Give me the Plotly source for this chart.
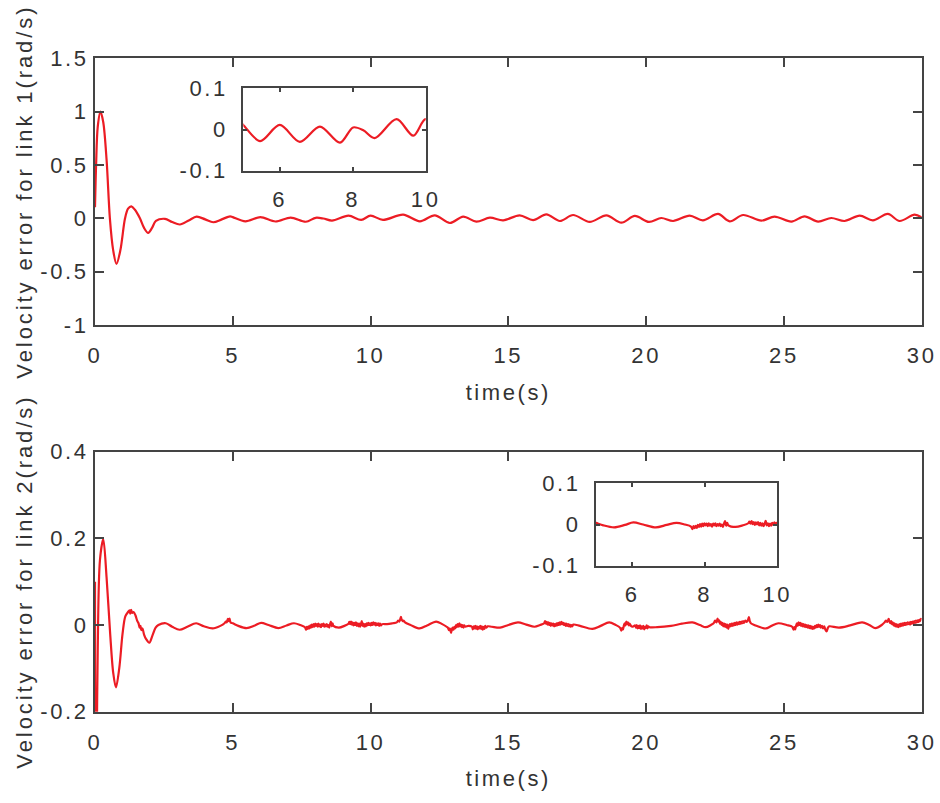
import plotly.graph_objects as go

# ---------------- data ----------------
# link 1 velocity error: time (s) and value (rad/s)
top_t = [0.0, 0.04, 0.1, 0.2, 0.3, 0.42, 0.54, 0.66, 0.78, 0.92, 1.09, 1.2, 1.32, 1.45,
         1.63, 1.78, 1.93, 2.07, 2.21, 2.54, 2.8, 3.08, 3.4, 3.69, 4.0, 4.29, 4.6, 4.9,
         5.0, 5.46, 6.0, 6.55, 7.1, 7.65, 8.01, 8.29, 8.6, 9.2, 9.66, 10.0,
         10.45, 11.18, 11.79, 12.33, 12.88, 13.36, 13.84, 14.33, 14.81, 15.41, 15.9,
         16.38, 16.87, 17.35, 17.95, 18.56, 19.1, 19.59, 20.1, 20.55, 20.98, 21.58,
         22.06, 22.61, 23.03, 23.52, 24.18, 24.66, 25.27, 25.75, 26.24, 26.72, 27.2,
         27.75, 28.23, 28.77, 29.2, 29.74, 30.0]
top_v = [0.103, 0.5, 0.86, 1.0, 0.9, 0.55, 0.0, -0.3, -0.428, -0.3, 0.0, 0.09, 0.112, 0.08,
         0.0, -0.09, -0.137, -0.09, -0.025, -0.005, -0.035, -0.058, -0.02, 0.016, -0.01, -0.037, -0.01, 0.019,
         0.011, -0.028, 0.011, -0.03, 0.007, -0.032, 0.005, -0.002, -0.021, 0.025, -0.015, 0.025,
         -0.015, 0.034, -0.028, 0.028, -0.044, 0.016, -0.031, 0.006, -0.019, 0.028, -0.016,
         0.037, -0.025, 0.031, -0.034, 0.028, -0.041, 0.022, -0.034, 0.003, -0.025, 0.025,
         -0.019, 0.041, -0.028, 0.031, -0.022, 0.016, -0.031, 0.019, -0.031, 0.003, -0.025,
         0.025, -0.019, 0.041, -0.025, 0.034, 0.009]

# link 2 velocity error, as (time, value) segments
bot_transient = [(0.0, 0.1), (0.02, -0.45), (0.06, -0.3), (0.1, -0.05), (0.18, 0.15), (0.3, 0.198),
                 (0.42, 0.11), (0.55, -0.02), (0.66, -0.11), (0.76, -0.144), (0.88, -0.1), (1.0, -0.02),
                 (1.1, 0.02), (1.2, 0.03), (1.25, 0.034), (1.28, 0.026), (1.31, 0.035), (1.35, 0.028),
                 (1.4, 0.03), (1.47, 0.022), (1.53, 0.01), (1.58, 0.004), (1.62, -0.006), (1.65, -0.002),
                 (1.68, -0.012), (1.72, -0.008), (1.78, -0.022), (1.85, -0.032), (1.97, -0.041),
                 (2.08, -0.025), (2.2, -0.006), (2.3, 0.0), (2.57, 0.004), (2.8, -0.004), (3.07, -0.011),
                 (3.35, -0.004), (3.67, 0.004), (3.95, -0.003), (4.27, -0.008), (4.55, -0.002),
                 (4.7, 0.004), (4.75, 0.008), (4.78, 0.006), (4.82, 0.014), (4.85, 0.009), (4.88, 0.015),
                 (4.92, 0.006), (5.0, 0.004), (5.2, -0.002), (5.5, -0.007), (5.8, -0.001), (6.03, 0.005),
                 (6.3, 0.0), (6.65, -0.007), (6.95, -0.001), (7.22, 0.004), (7.45, 0.0)]
bot_noise_a = [(7.62, -0.005), (7.66, -0.011), (7.69, -0.004), (7.72, -0.009), (7.75, -0.003),
               (7.78, -0.008), (7.81, -0.001), (7.84, -0.006), (7.87, 0.001), (7.9, -0.005),
               (7.93, 0.002), (7.96, -0.004), (7.99, 0.003), (8.02, -0.002), (8.05, 0.002),
               (8.08, -0.004), (8.11, 0.003), (8.14, -0.003), (8.17, 0.001), (8.2, -0.005),
               (8.23, 0.002), (8.26, -0.002), (8.29, 0.003), (8.32, -0.004), (8.35, 0.001),
               (8.38, -0.003), (8.41, 0.002), (8.44, -0.004), (8.47, 0.0), (8.5, -0.006),
               (8.53, 0.002), (8.56, 0.008), (8.59, -0.003), (8.62, 0.004), (8.65, -0.002),
               (8.85, -0.006), (9.05, -0.002), (9.2, 0.003)]
bot_noise_b = [(9.23, 0.007), (9.26, 0.002), (9.29, 0.008), (9.32, 0.001), (9.35, 0.006), (9.38, -0.001),
               (9.41, 0.005), (9.44, 0.0), (9.47, 0.006), (9.5, -0.002), (9.53, 0.004), (9.56, -0.003),
               (9.59, 0.003), (9.62, -0.004), (9.65, 0.002), (9.68, 0.009), (9.71, -0.002), (9.74, 0.003),
               (9.77, -0.004), (9.8, 0.002), (9.83, -0.003), (9.86, 0.004), (9.89, -0.001), (9.92, 0.005),
               (9.95, 0.0), (9.98, 0.004), (10.01, -0.001), (10.04, 0.005), (10.07, 0.0), (10.1, 0.006),
               (10.13, 0.001), (10.16, 0.005), (10.19, -0.001), (10.22, 0.004), (10.25, 0.0),
               (10.28, 0.004), (10.31, -0.002), (10.34, 0.003), (10.38, -0.001), (10.42, 0.002),
               (10.6, 0.002), (10.8, 0.004)]
bot_noise_c = [(10.95, 0.006), (11.0, 0.01), (11.05, 0.008), (11.1, 0.019), (11.13, 0.012), (11.17, 0.009),
               (11.2, 0.01), (11.25, 0.006), (11.45, 0.0), (11.78, -0.008), (12.05, -0.001),
               (12.38, 0.008), (12.6, 0.002)]
bot_noise_d = [(12.8, -0.006), (12.85, -0.012), (12.88, -0.008), (12.92, -0.018), (12.95, -0.01),
               (12.98, -0.006), (13.01, -0.011), (13.04, -0.004), (13.07, -0.008), (13.1, 0.0),
               (13.13, -0.005), (13.16, 0.002), (13.19, -0.004), (13.22, 0.004), (13.25, -0.003),
               (13.28, 0.001), (13.31, -0.005), (13.34, 0.0), (13.37, -0.006), (13.4, -0.001),
               (13.44, -0.004), (13.55, -0.002), (13.68, -0.004), (13.71, -0.01), (13.74, -0.003),
               (13.77, -0.008), (13.8, -0.002), (13.83, -0.009), (13.86, -0.003), (13.89, -0.01),
               (13.92, -0.004), (13.95, -0.008), (13.98, -0.002), (14.01, -0.009), (14.04, -0.003),
               (14.07, -0.011), (14.1, -0.004), (14.13, -0.009), (14.16, -0.002), (14.2, -0.006),
               (14.25, -0.003), (14.4, -0.004), (14.7, -0.006), (15.0, 0.0), (15.35, 0.006),
               (15.65, 0.001), (15.95, -0.004), (16.15, 0.0)]
bot_noise_e = [(16.3, 0.004), (16.33, 0.009), (16.36, 0.003), (16.39, 0.007), (16.42, 0.001), (16.45, 0.006),
               (16.48, 0.0), (16.51, 0.005), (16.54, -0.002), (16.57, 0.004), (16.6, -0.001), (16.63, 0.003),
               (16.66, -0.003), (16.69, 0.002), (16.72, -0.002), (16.75, 0.004), (16.78, -0.001),
               (16.81, 0.005), (16.84, 0.0), (16.87, 0.006), (16.9, 0.001), (16.93, 0.007), (16.96, 0.002),
               (16.99, 0.005), (17.02, 0.0), (17.05, 0.004), (17.08, -0.002), (17.11, 0.003),
               (17.14, -0.002), (17.17, 0.002), (17.2, -0.003), (17.23, 0.001), (17.26, -0.004),
               (17.29, 0.0), (17.32, -0.003), (17.36, 0.001), (17.6, -0.002), (18.05, -0.009),
               (18.35, -0.002), (18.66, 0.006), (18.9, 0.0)]
bot_noise_f = [(19.05, -0.006), (19.1, -0.013), (19.13, -0.007), (19.16, -0.01), (19.19, -0.002),
               (19.22, 0.004), (19.25, -0.001), (19.28, 0.008), (19.31, 0.002), (19.34, 0.006),
               (19.37, -0.001), (19.4, 0.003), (19.45, -0.002), (19.5, -0.004), (19.6, -0.001),
               (19.63, -0.006), (19.66, 0.0), (19.69, -0.008), (19.72, -0.002), (19.75, -0.007),
               (19.78, -0.001), (19.81, -0.009), (19.84, -0.003), (19.87, -0.008), (19.9, -0.002),
               (19.93, -0.01), (19.96, -0.004), (19.99, -0.007), (20.02, -0.001), (20.05, -0.008),
               (20.08, -0.003), (20.12, -0.005), (20.4, -0.005), (20.9, -0.002), (21.3, 0.003),
               (21.68, 0.006), (21.95, 0.0), (22.16, -0.005), (22.35, 0.0)]
bot_noise_g = [(22.45, 0.004), (22.5, 0.01), (22.55, 0.006), (22.59, 0.015), (22.62, 0.008), (22.65, 0.011),
               (22.68, 0.003), (22.71, 0.007), (22.74, 0.0), (22.77, 0.005), (22.8, -0.003), (22.83, 0.003),
               (22.86, -0.004), (22.89, 0.002), (22.92, -0.006), (22.95, 0.001), (22.98, -0.009),
               (23.01, -0.002), (23.04, 0.002), (23.07, -0.003), (23.1, 0.003), (23.13, -0.002),
               (23.16, 0.004), (23.19, -0.001), (23.22, 0.005), (23.25, 0.0), (23.28, 0.006),
               (23.31, 0.001), (23.34, 0.006), (23.37, 0.002), (23.4, 0.007), (23.43, 0.003),
               (23.46, 0.008), (23.49, 0.004), (23.52, 0.009), (23.55, 0.005), (23.6, 0.01),
               (23.65, 0.007), (23.7, 0.012), (23.73, 0.018), (23.76, 0.009), (23.8, 0.004),
               (24.05, -0.003), (24.34, -0.008), (24.55, -0.002), (24.8, 0.004), (25.1, 0.0)]
bot_noise_h = [(25.3, -0.004), (25.35, -0.011), (25.38, -0.005), (25.41, -0.01), (25.44, -0.002),
               (25.47, 0.004), (25.5, -0.002), (25.53, 0.006), (25.56, 0.0), (25.59, 0.005),
               (25.62, -0.002), (25.65, 0.003), (25.68, -0.003), (25.71, 0.002), (25.74, -0.004),
               (25.77, 0.001), (25.8, -0.005), (25.83, 0.0), (25.86, -0.006), (25.89, -0.001),
               (25.92, -0.007), (25.95, -0.002), (25.98, -0.008), (26.01, -0.003), (26.04, -0.009),
               (26.07, -0.004), (26.1, -0.008), (26.13, -0.002), (26.16, -0.006), (26.19, 0.0),
               (26.22, -0.005), (26.25, 0.001), (26.28, -0.004), (26.31, 0.0), (26.34, -0.006),
               (26.38, -0.002), (26.42, -0.008), (26.46, -0.003), (26.5, -0.01), (26.55, -0.015),
               (26.6, -0.006), (26.65, -0.003), (27.0, -0.006), (27.4, -0.001), (27.84, 0.006),
               (28.1, 0.0), (28.32, -0.007), (28.55, 0.0)]
bot_noise_i = [(28.65, 0.006), (28.7, 0.01), (28.75, 0.007), (28.8, 0.014), (28.83, 0.008), (28.86, 0.004),
               (28.89, 0.009), (28.92, 0.002), (28.95, 0.006), (28.98, -0.001), (29.01, 0.004),
               (29.04, -0.003), (29.07, 0.002), (29.1, -0.004), (29.13, 0.001), (29.16, -0.005),
               (29.19, 0.002), (29.22, -0.003), (29.25, 0.003), (29.28, -0.002), (29.31, 0.004),
               (29.34, -0.001), (29.37, 0.005), (29.4, 0.0), (29.43, 0.005), (29.46, 0.001),
               (29.49, 0.006), (29.52, 0.002), (29.55, 0.006), (29.58, 0.001), (29.61, 0.007),
               (29.64, 0.003), (29.67, 0.008), (29.7, 0.004), (29.73, 0.009), (29.76, 0.005),
               (29.79, 0.01), (29.82, 0.006), (29.85, 0.011), (29.88, 0.007), (29.91, 0.012),
               (29.94, 0.009), (29.97, 0.014), (30.0, 0.013)]

x_tickvals = [0, 5, 10, 15, 20, 25, 30]
x_ticktext = ["0", "5", "10", "15", "20", "25", "30"]
top_y_tickvals = [-1, -0.5, 0, 0.5, 1, 1.5]
top_y_ticktext = ["-1", "-0.5", "0", "0.5", "1", "1.5"]
bot_y_tickvals = [-0.2, 0, 0.2, 0.4]
bot_y_ticktext = ["-0.2", "0", "0.2", "0.4"]
inset_x_tickvals = [6, 8, 10]
inset_x_ticktext = ["6", "8", "10"]
inset_y_tickvals = [-0.1, 0, 0.1]
inset_y_ticktext = ["-0.1", "0", "0.1"]

x_title = "time(s)"
top_y_title = "Velocity error for link 1(rad/s)"
bot_y_title = "Velocity error for link 2(rad/s)"

# ---------------- figure ----------------
bot_points = (bot_transient + bot_noise_a + bot_noise_b + bot_noise_c + bot_noise_d +
              bot_noise_e + bot_noise_f + bot_noise_g + bot_noise_h + bot_noise_i)
bot_t = [p[0] for p in bot_points]
bot_v = [p[1] for p in bot_points]

RED = "#ec1c24"
LINE = "#444444"
TEXT = "#333333"
FONT = "Liberation Sans, Arial, sans-serif"
FS = 22

W, H = 940, 803


def xd(a, b):
    return [a / W, b / W]


def yd(top, bottom):
    return [(H - bottom) / H, (H - top) / H]


line_style = dict(color=RED, width=2.2, shape="spline", smoothing=0.9)

fig = go.Figure()
fig.add_trace(go.Scatter(x=top_t, y=top_v, mode="lines", line=line_style, xaxis="x", yaxis="y",
                         showlegend=False, hoverinfo="skip"))
fig.add_trace(go.Scatter(x=bot_t, y=bot_v, mode="lines", line=line_style, xaxis="x2", yaxis="y2",
                         showlegend=False, hoverinfo="skip"))
fig.add_trace(go.Scatter(x=top_t, y=top_v, mode="lines", line=line_style, xaxis="x3", yaxis="y3",
                         showlegend=False, hoverinfo="skip"))
fig.add_trace(go.Scatter(x=bot_t, y=bot_v, mode="lines", line=line_style, xaxis="x4", yaxis="y4",
                         showlegend=False, hoverinfo="skip"))

common = dict(showline=True, linewidth=2, linecolor=LINE, mirror="ticks", ticks="inside",
              tickwidth=2, tickcolor=LINE, showgrid=False, zeroline=False, fixedrange=True,
              automargin=False, tickfont=dict(family=FONT, size=FS, color=TEXT))
title_font = dict(family=FONT, size=FS, color=TEXT)

main_x = dict(common, ticklen=9, range=[0, 30], tickmode="array", tickvals=x_tickvals,
              ticktext=x_ticktext, ticklabelstandoff=10)
main_y = dict(common, ticklen=9, tickmode="array", ticklabelstandoff=0)
inset_x = dict(common, ticklen=4, range=[5, 10], tickmode="array", tickvals=inset_x_tickvals,
               ticktext=inset_x_ticktext, ticklabelstandoff=8)
inset_y = dict(common, ticklen=4, range=[-0.1, 0.1], tickmode="array", tickvals=inset_y_tickvals,
               ticktext=inset_y_ticktext, ticklabelstandoff=9)

fig.update_layout(
    width=W, height=H,
    margin=dict(l=0, r=0, t=0, b=0, autoexpand=False),
    paper_bgcolor="white", plot_bgcolor="white",
    xaxis=dict(main_x, domain=xd(95, 921.7), anchor="y",
               title=dict(text=x_title, font=title_font, standoff=17)),
    yaxis=dict(main_y, domain=yd(58.3, 325), anchor="x", range=[-1, 1.5],
               tickvals=top_y_tickvals, ticktext=top_y_ticktext,
               title=dict(text=top_y_title, font=title_font, standoff=12)),
    xaxis2=dict(main_x, domain=xd(95, 921.7), anchor="y2",
                title=dict(text=x_title, font=title_font, standoff=17)),
    yaxis2=dict(main_y, domain=yd(451.6, 711.7), anchor="x2", range=[-0.2, 0.4],
                tickvals=bot_y_tickvals, ticktext=bot_y_ticktext,
                title=dict(text=bot_y_title, font=title_font, standoff=12)),
    xaxis3=dict(inset_x, domain=xd(243.3, 425.7), anchor="y3"),
    yaxis3=dict(inset_y, domain=yd(88.3, 170.7), anchor="x3"),
    xaxis4=dict(inset_x, domain=xd(596, 777.3), anchor="y4"),
    yaxis4=dict(inset_y, domain=yd(483.3, 565.7), anchor="x4"),
)

post = ("var s=document.createElement('style');"
        "s.textContent='html,body{margin:0;padding:0;overflow:hidden}"
        ".main-svg text{letter-spacing:2.6px}"
        " .main-svg text.ytitle,.main-svg text.y2title{letter-spacing:2.9px}';"
        "document.head.appendChild(s);")
fig.write_html("out.html", post_script=post, config={"displayModeBar": False})
